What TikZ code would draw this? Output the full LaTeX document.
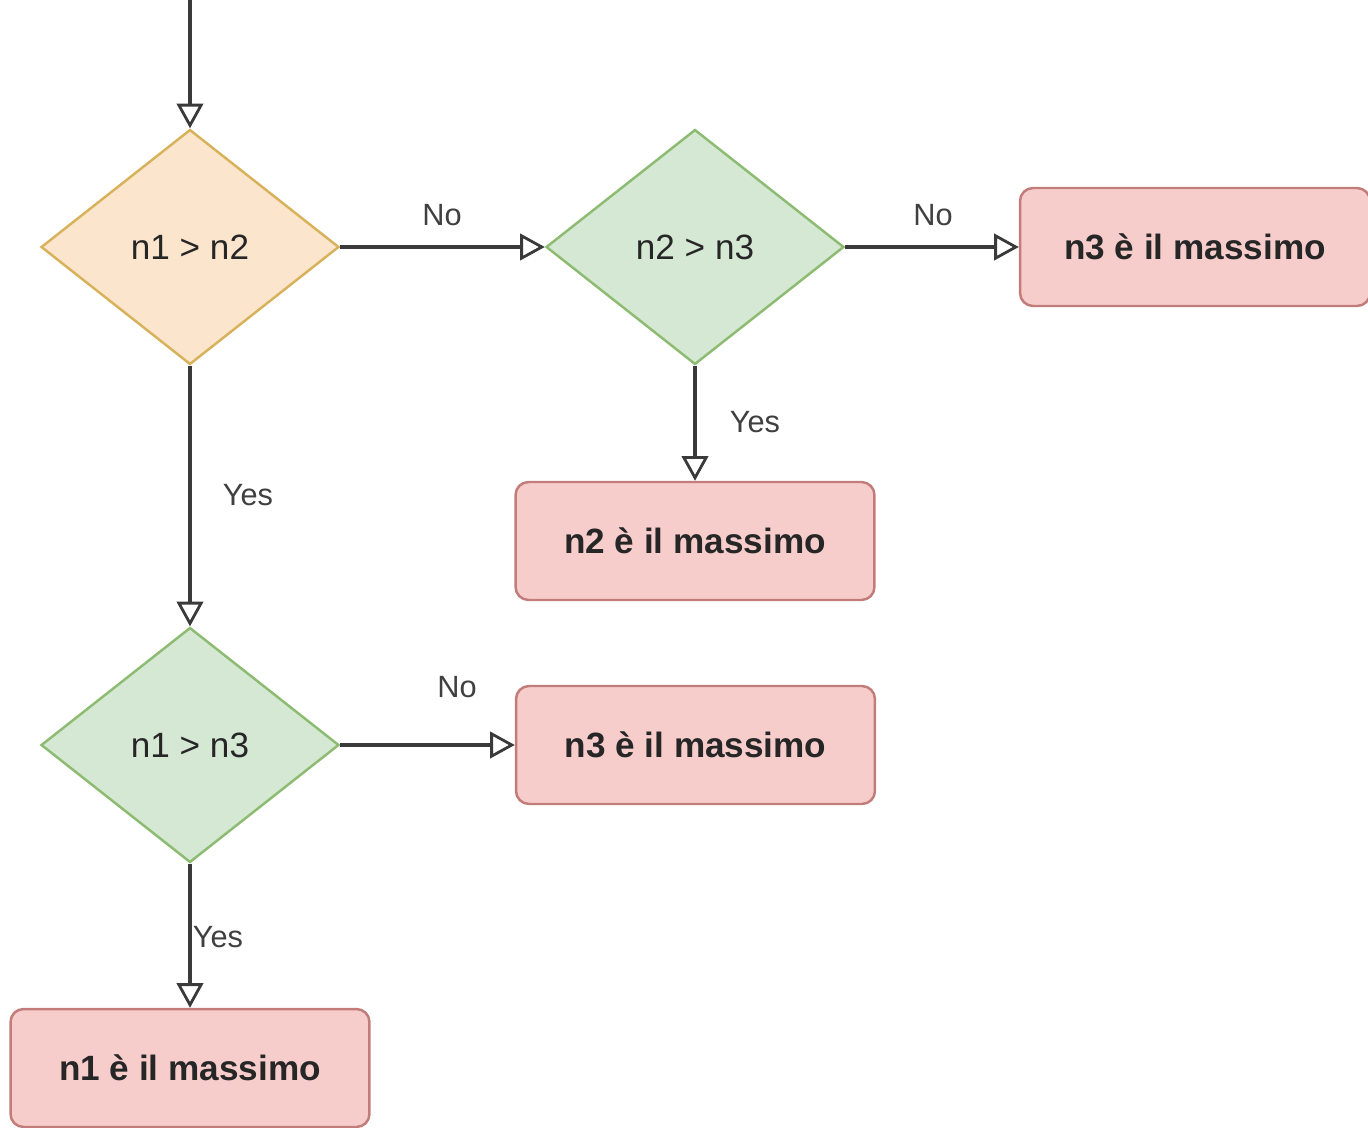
\documentclass[tikz,border=0pt]{standalone}
\usepackage{fontspec}
\setmainfont{Liberation Sans}
\usetikzlibrary{shapes.geometric,arrows.meta}
\definecolor{orfill}{HTML}{FCE5CD}
\definecolor{ordraw}{HTML}{D8B25A}
\definecolor{grfill}{HTML}{D5E8D4}
\definecolor{grdraw}{HTML}{8DBB72}
\definecolor{rdfill}{HTML}{F7CDCC}
\definecolor{rddraw}{HTML}{C27C7A}
\definecolor{lncol}{HTML}{3A3A3A}
\tikzset{
  dec/.style={diamond, draw, line width=1.4pt, minimum width=5.96cm, minimum height=4.7cm, inner sep=0pt,
    font=\fontsize{20}{24}\selectfont, text=black!85},
  orangedec/.style={dec, fill=orfill, draw=ordraw},
  greendec/.style={dec, fill=grfill, draw=grdraw},
  endbox/.style={rectangle, rounded corners=0.26cm, draw=rddraw, fill=rdfill, line width=1.4pt,
    minimum width=7.18cm, minimum height=2.36cm, font=\bfseries\fontsize{20}{24}\selectfont, text=black!85},
  conn/.style={draw=lncol, line width=2pt, -{Triangle[open, length=14pt, width=15pt, line width=1.6pt]}},
  lbl/.style={font=\fontsize{17.5}{21}\selectfont, text=black!75, inner sep=0pt}
}
\begin{document}
\begin{tikzpicture}[x=0.02cm, y=-0.02cm]
\useasboundingbox (0,0) rectangle (1368,1128);
\fill[white] (0,0) rectangle (1368,1128);
\coordinate (start) at (190,0);
\node[orangedec] (d1) at (190,247) {n1 > n2};
\node[greendec] (d2) at (695,247) {n2 > n3};
\node[greendec] (d3) at (190,745) {n1 > n3};
\node[endbox, minimum width=7.0cm] (r3a) at (1195,247) {n3 è il massimo};
\node[endbox] (r2) at (695,541) {n2 è il massimo};
\node[endbox] (r3b) at (695.5,745) {n3 è il massimo};
\node[endbox] (r1) at (190,1068) {n1 è il massimo};
\draw[conn] (start) -- (d1.north);
\draw[conn] (d1.east) -- (d2.west);
\draw[conn] (d2.east) -- (r3a.west);
\draw[conn] (d2.south) -- (r2.north);
\draw[conn] (d1.south) -- (d3.north);
\draw[conn] (d3.east) -- (r3b.west);
\draw[conn] (d3.south) -- (r1.north);
\node[lbl] (l1) at (442,215) {No};
\node[lbl] (l2) at (933,215) {No};
\node[lbl] (l3) at (755,422) {Yes};
\node[lbl] (l4) at (248,495) {Yes};
\node[lbl] (l5) at (457,687) {No};
\node[lbl] (l6) at (218,937) {Yes};
\end{tikzpicture}
\end{document}
